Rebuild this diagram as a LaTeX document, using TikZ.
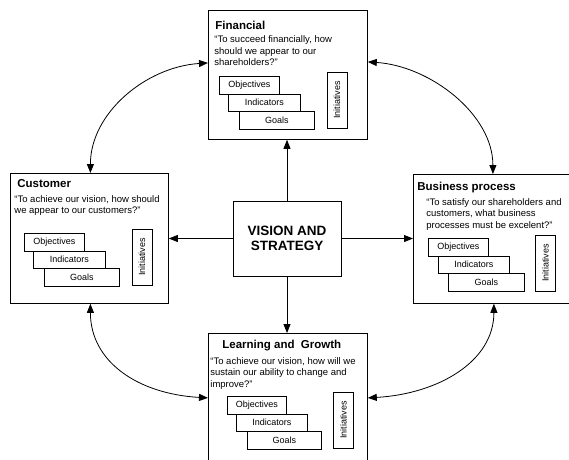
\documentclass[tikz,border=0pt]{standalone}
\usepackage{fontspec}
\setmainfont{Liberation Sans}
\usetikzlibrary{arrows.meta}

\begin{document}
\begin{tikzpicture}[x=1pt,y=-1pt,line width=0.8pt,
  >={Triangle[length=9pt,width=7pt]},
  panel/.style={draw,anchor=north west},
  heading/.style={anchor=base west,font=\bfseries\fontsize{11.5}{13}\selectfont},
  question/.style={anchor=north west,align=left,font=\fontsize{9.5}{11.6}\selectfont},
  item/.style={draw,anchor=north west,minimum height=17.5pt,font=\fontsize{9}{10}\selectfont},
  initbox/.style={draw,rotate=90,minimum width=56pt,minimum height=20pt,font=\fontsize{9}{10}\selectfont}]
\tikzstyle{every node}+=[inner sep=0pt]
\useasboundingbox (0,0) rectangle (569,459);
\clip (0,0) rectangle (569,459);
% centre
\node [draw,minimum width=108pt,minimum height=75pt,align=center,
  font=\bfseries\fontsize{13.5}{15}\selectfont] (vis) at (287,238.5) {VISION AND\\STRATEGY};
% financial
\node [panel,minimum width=159pt,minimum height=129pt] (fin) at (208,10) {};
\node [heading] (finhead) at (215,29) {Financial};
\node [question] (finq) at (214,35.5) {“To succeed financially, how\\should we appear to our\\shareholders?”};
\node [item,minimum width=60pt] (finobj) at (219,76) {Objectives};
\node [item,minimum width=72pt] (finind) at (228,93.5) {Indicators};
\node [item,minimum width=75pt] (fingoal) at (239,111) {Goals};
\node [initbox] (fininit) at (337,100) {Initiatives};
% customer
\node [panel,minimum width=158pt,minimum height=130pt] (cust) at (10,173) {};
\node [heading] (custhead) at (17,187) {Customer};
\node [question] (custq) at (14,195) {“To achieve our vision, how should\\we appear to our customers?”};
\node [item,minimum width=60pt] (custobj) at (24,233) {Objectives};
\node [item,minimum width=72pt] (custind) at (33,250.5) {Indicators};
\node [item,minimum width=75pt] (custgoal) at (44,268) {Goals};
\node [initbox] (custinit) at (142,257) {Initiatives};
% business process
\node [panel,minimum width=159pt,minimum height=129pt] (biz) at (413,174) {};
\node [heading] (bizhead) at (417,190) {Business process};
\node [question] (bizq) at (426,198) {“To satisfy our shareholders and\\customers, what business\\processes must be excelent?”};
\node [item,minimum width=60pt] (bizobj) at (428,238) {Objectives};
\node [item,minimum width=71pt] (bizind) at (438,255.5) {Indicators};
\node [item,minimum width=76pt] (bizgoal) at (448,273) {Goals};
\node [initbox] (bizinit) at (545.5,263) {Initiatives};
% learning and growth
\node [panel,minimum width=159pt,minimum height=129pt] (lrn) at (208,333) {};
\node [heading] (lrnhead) at (222,348) {Learning and\ \ Growth};
\node [question] (lrnq) at (210,357) {“To achieve our vision, how will we\\sustain our ability to change and\\improve?”};
\node [item,minimum width=59pt] (lrnobj) at (227,396) {Objectives};
\node [item,minimum width=71pt] (lrnind) at (236,413.5) {Indicators};
\node [item,minimum width=74pt] (lrngoal) at (247,431) {Goals};
\node [initbox] (lrninit) at (343.5,420) {Initiatives};
% straight arrows
\draw [->] (vis.north) -- (vis.north |- fin.south);
\draw [->] (vis.west) -- (vis.west -| cust.east);
\draw [->] (vis.east) -- (vis.east -| biz.west);
\draw [->] (vis.south) -- (vis.south |- lrn.north);
% curved arrows
\draw [<->] ([yshift=12pt]fin.west) .. controls +(-62,4) and +(0,-60) .. ([xshift=1pt]cust.north);
\draw [<->] ([yshift=13pt]fin.east) .. controls +(62,4) and +(0,-60) .. (biz.north);
\draw [<->] ([xshift=1pt]cust.south) .. controls +(0,58) and +(-70,-4) .. (lrn.west);
\draw [<->] ([xshift=1pt]biz.south) .. controls +(0,58) and +(70,-4) .. (lrn.east);
\end{tikzpicture}
\end{document}
